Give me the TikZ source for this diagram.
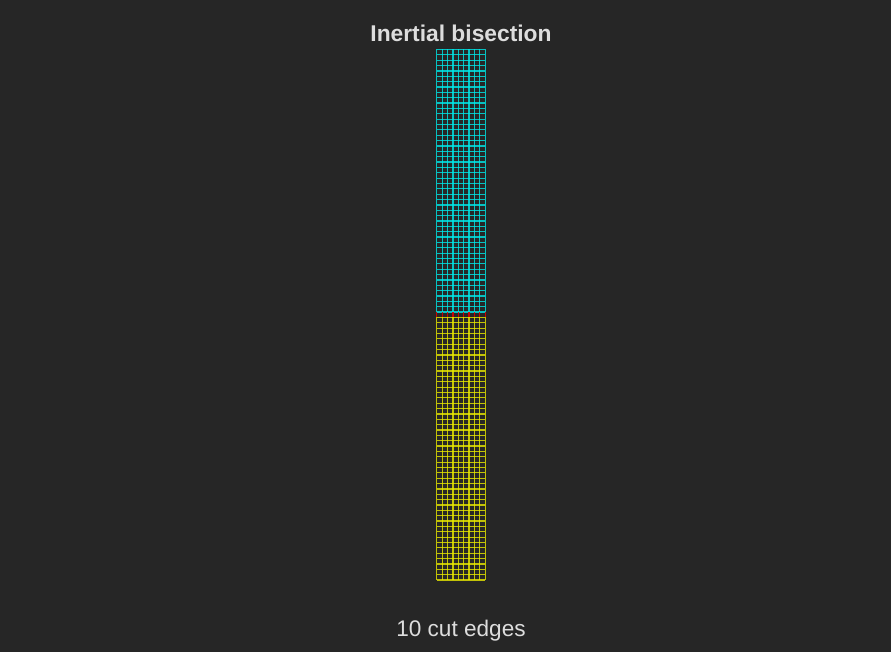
\documentclass[tikz,border=0pt]{standalone}
\usepackage{fontspec}
\setmainfont{Liberation Sans}
\definecolor{bg}{HTML}{262626}
\definecolor{txt}{HTML}{DDDDDD}
\definecolor{partA}{HTML}{00E8E8}
\definecolor{partB}{HTML}{E8E800}
\definecolor{cutc}{HTML}{DD0000}
\tikzset{
  edgeA/.style={draw=partA, line width=1.2pt, opacity=0.8},
  edgeB/.style={draw=partB, line width=1.2pt, opacity=0.8},
  cutedge/.style={draw=cutc, line width=1.3pt, opacity=0.9},
  titletext/.style={text=txt, font=\fontsize{22.8}{26}\selectfont\bfseries},
  labeltext/.style={text=txt, font=\fontsize{22.6}{26}\selectfont}
}
\begin{document}
\begin{tikzpicture}[x=1pt,y=-1pt]
\fill[bg] (0,0) rectangle (891,652);
\useasboundingbox (0,0) rectangle (891,652);
\foreach \r in {0,...,99}{
  \foreach \c in {0,...,9}{
    \coordinate (v-\r-\c) at ({436.8+\c*5.38},{49.5+\r*5.359});
  }
}
% horizontal edges
\foreach \r in {0,...,99}{
  \foreach \c in {0,...,8}{
    \pgfmathtruncatemacro{\cn}{\c+1}
    \ifnum\r<50
      \draw[edgeA] (v-\r-\c) -- (v-\r-\cn);
    \else
      \draw[edgeB] (v-\r-\c) -- (v-\r-\cn);
    \fi
  }
}
% vertical edges
\foreach \r in {0,...,98}{
  \pgfmathtruncatemacro{\rn}{\r+1}
  \foreach \c in {0,...,9}{
    \ifnum\r<49
      \draw[edgeA] (v-\r-\c) -- (v-\rn-\c);
    \else\ifnum\r=49
      \draw[cutedge] (v-\r-\c) -- (v-\rn-\c);
    \else
      \draw[edgeB] (v-\r-\c) -- (v-\rn-\c);
    \fi\fi
  }
}
\node[titletext] (title) at (461,33) {Inertial bisection};
\node[labeltext] (cuts) at (461,631) {10 cut edges};
\end{tikzpicture}
\end{document}
